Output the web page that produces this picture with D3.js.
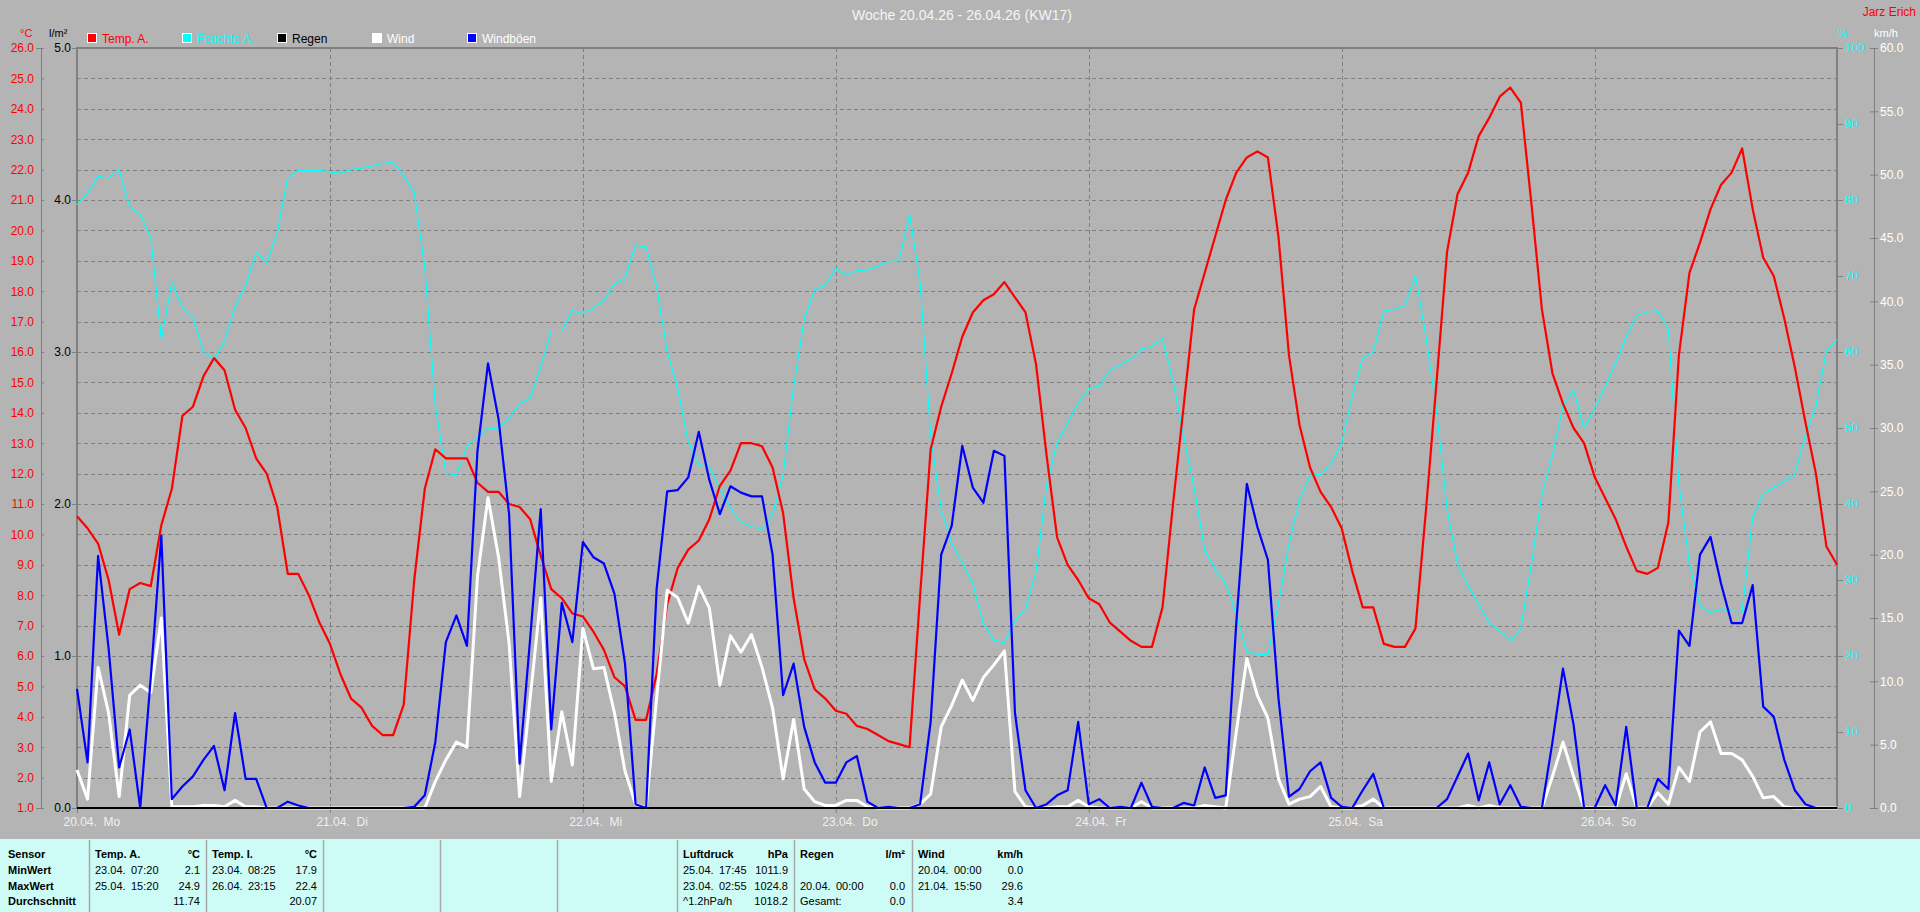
<!DOCTYPE html>
<html>
<head>
<meta charset="utf-8">
<script src="https://cdn.jsdelivr.net/npm/d3@7"></script>
<style>
	body { margin: 0; background: #b4b4b4; overflow: hidden; }
	svg text { font-family: 'Liberation Sans', Arial, sans-serif; }
	.tbl text { font-family: 'Liberation Sans', Arial, sans-serif; font-size: 11px; white-space: pre; }
</style>
</head>
<body>
<svg id="chart" width="1920" height="912"></svg>
<script>
// hourly values, 20.04. 00:00 .. 26.04. 23:00
const tempA = [
	10.6, 10.2, 9.7, 8.5, 6.7, 8.2, 8.4, 8.3, 10.3, 11.5,
	13.9, 14.2, 15.2, 15.8, 15.4, 14.1, 13.5, 12.5, 12.0, 10.9,
	8.7, 8.7, 8.0, 7.1, 6.4, 5.4, 4.6, 4.3, 3.7, 3.4,
	3.4, 4.4, 8.5, 11.5, 12.8, 12.5, 12.5, 12.5, 11.7, 11.4,
	11.4, 11.0, 10.9, 10.5, 9.3, 8.2, 7.9, 7.4, 7.3, 6.8,
	6.2, 5.3, 5.0, 3.9, 3.9, 5.4, 7.7, 8.9, 9.5, 9.8,
	10.5, 11.6, 12.1, 13.0, 13.0, 12.9, 12.2, 10.7, 7.9, 5.9,
	4.9, 4.6, 4.2, 4.1, 3.7, 3.6, 3.4, 3.2, 3.1, 3.0,
	8.0, 12.8, 14.2, 15.3, 16.5, 17.3, 17.7, 17.9, 18.3, 17.8,
	17.3, 15.6, 12.6, 9.9, 9.0, 8.5, 7.9, 7.7, 7.1, 6.8,
	6.5, 6.3, 6.3, 7.6, 11.0, 14.2, 17.4, 18.6, 19.8, 21.0,
	21.9, 22.4, 22.6, 22.4, 19.8, 15.9, 13.6, 12.2, 11.4, 10.9,
	10.2, 8.8, 7.6, 7.6, 6.4, 6.3, 6.3, 6.9, 10.8, 15.0,
	19.3, 21.2, 21.9, 23.1, 23.7, 24.4, 24.7, 24.2, 20.9, 17.4,
	15.3, 14.3, 13.5, 13.0, 11.9, 11.2, 10.5, 9.6, 8.8, 8.7,
	8.9, 10.4, 15.9, 18.6, 19.6, 20.7, 21.5, 21.9, 22.7, 20.7,
	19.1, 18.5, 17.1, 15.5, 13.7, 12.0, 9.6, 9.0,
]
const humidA = [
	79.4, 80.9, 83.1, 82.9, 84.0, 79.1, 78.1, 75.1, 61.7, 69.2,
	65.8, 64.5, 60.1, 59.0, 61.4, 66.0, 68.8, 73.1, 71.7, 75.7,
	82.9, 83.9, 83.9, 83.9, 83.7, 83.5, 84.0, 84.2, 84.5, 84.8,
	85.0, 83.2, 80.9, 71.2, 52.9, 44.1, 43.8, 47.6, 48.8, 50.0,
	49.9, 51.3, 53.2, 53.9, 58.1, 62.7, 62.7, 65.5, 65.0, 65.8,
	66.8, 69.0, 69.7, 74.1, 73.8, 68.6, 60.1, 55.2, 48.2, 45.2,
	45.0, 41.9, 39.6, 37.6, 37.0, 36.8, 38.6, 43.8, 55.5, 64.3,
	68.2, 68.8, 71.0, 70.1, 70.7, 70.8, 71.3, 71.9, 72.0, 78.1,
	69.2, 49.0, 39.3, 34.8, 32.3, 29.5, 24.3, 22.1, 21.8, 24.6,
	26.2, 31.1, 42.5, 48.0, 50.7, 53.3, 55.2, 55.5, 57.6, 58.3,
	59.1, 60.4, 60.7, 61.8, 56.2, 49.0, 42.2, 34.0, 31.4, 29.5,
	25.6, 20.6, 20.2, 20.2, 26.9, 34.7, 40.6, 43.8, 43.9, 45.4,
	48.0, 54.2, 59.2, 60.0, 65.4, 65.6, 66.1, 70.1, 62.0, 52.3,
	39.3, 32.1, 29.2, 26.9, 24.3, 23.3, 22.0, 23.6, 32.1, 41.2,
	46.4, 52.9, 55.0, 50.0, 52.6, 55.5, 58.5, 62.0, 64.8, 65.3,
	65.4, 63.0, 42.5, 32.1, 26.6, 25.7, 26.2, 25.9, 25.8, 38.3,
	41.3, 42.2, 43.0, 43.9, 49.0, 52.9, 60.2, 61.7,
]
const rain = [
	0, 0, 0, 0, 0, 0, 0, 0, 0, 0, 0, 0, 0, 0, 0, 0, 0, 0, 0, 0, 0, 0, 0, 0,
	0, 0, 0, 0, 0, 0, 0, 0, 0, 0, 0, 0, 0, 0, 0, 0, 0, 0, 0, 0, 0, 0, 0, 0,
	0, 0, 0, 0, 0, 0, 0, 0, 0, 0, 0, 0, 0, 0, 0, 0, 0, 0, 0, 0, 0, 0, 0, 0,
	0, 0, 0, 0, 0, 0, 0, 0, 0, 0, 0, 0, 0, 0, 0, 0, 0, 0, 0, 0, 0, 0, 0, 0,
	0, 0, 0, 0, 0, 0, 0, 0, 0, 0, 0, 0, 0, 0, 0, 0, 0, 0, 0, 0, 0, 0, 0, 0,
	0, 0, 0, 0, 0, 0, 0, 0, 0, 0, 0, 0, 0, 0, 0, 0, 0, 0, 0, 0, 0, 0, 0, 0,
	0, 0, 0, 0, 0, 0, 0, 0, 0, 0, 0, 0, 0, 0, 0, 0, 0, 0, 0, 0, 0, 0, 0, 0,
]
const wind = [
	3.0, 0.7, 11.1, 7.5, 0.9, 8.9, 9.7, 9.1, 15.0, 0.1,
	0.1, 0.1, 0.2, 0.2, 0.1, 0.6, 0.1, 0.1, 0, 0,
	0, 0, 0, 0, 0, 0, 0, 0, 0, 0,
	0, 0, 0, 0, 2.1, 3.8, 5.2, 4.8, 18.3, 24.5,
	19.8, 13.0, 0.9, 8.7, 16.6, 2.1, 7.6, 3.4, 14.2, 11.0,
	11.1, 7.5, 2.9, 0.3, 0, 8.7, 17.2, 16.6, 14.6, 17.5,
	15.8, 9.7, 13.6, 12.3, 13.7, 11.1, 7.9, 2.3, 7.0, 1.5,
	0.5, 0.2, 0.2, 0.6, 0.6, 0.1, 0, 0, 0, 0,
	0.3, 1.1, 6.4, 8.1, 10.1, 8.5, 10.3, 11.3, 12.4, 1.3,
	0.1, 0, 0, 0.1, 0.1, 0.6, 0.1, 0, 0, 0,
	0, 0.5, 0, 0, 0, 0, 0, 0.2, 0.1, 0,
	6.0, 11.8, 8.9, 7.1, 2.3, 0.3, 0.7, 0.9, 1.7, 0.1,
	0, 0, 0.2, 0.7, 0, 0, 0, 0, 0, 0,
	0, 0, 0.2, 0, 0.2, 0, 0, 0, 0, 0,
	2.5, 5.2, 2.5, 0, 0, 0, 0, 2.7, 0, 0,
	1.2, 0.3, 3.2, 2.1, 6.0, 6.8, 4.3, 4.3, 3.8, 2.5,
	0.8, 0.9, 0.1, 0, 0, 0, 0, 0,
]
const gusts = [
	9.4, 3.6, 19.9, 12.6, 3.2, 6.2, 0, 10.3, 21.5, 0.7,
	1.7, 2.5, 3.8, 4.9, 1.4, 7.5, 2.3, 2.3, 0, 0,
	0.5, 0.2, 0, 0, 0, 0, 0, 0, 0, 0,
	0, 0, 0.1, 1.0, 5.2, 13.1, 15.2, 12.8, 28.2, 35.1,
	30.7, 23.2, 3.5, 13.4, 23.6, 6.2, 16.2, 13.1, 21.0, 19.8,
	19.3, 16.9, 11.4, 0.3, 0, 17.3, 25.0, 25.1, 26.1, 29.7,
	25.9, 23.2, 25.4, 24.9, 24.6, 24.6, 20.0, 8.9, 11.4, 6.4,
	3.6, 2.0, 2.0, 3.6, 4.1, 0.5, 0, 0.1, 0, 0,
	0.3, 6.8, 20.0, 22.3, 28.6, 25.3, 24.1, 28.2, 27.8, 7.5,
	1.4, 0, 0.3, 1.0, 1.4, 6.8, 0.3, 0.7, 0, 0.1,
	0, 2.0, 0.1, 0, 0, 0.4, 0.2, 3.2, 0.8, 1.0,
	14.6, 25.6, 22.2, 19.6, 8.7, 0.9, 1.5, 2.9, 3.6, 0.8,
	0.1, 0, 1.4, 2.7, 0, 0, 0, 0, 0, 0,
	0.7, 2.5, 4.3, 0.6, 3.6, 0.3, 1.8, 0.1, 0, 0,
	5.2, 11.0, 6.6, 0, 0, 1.8, 0.2, 6.4, 0, 0,
	2.3, 1.5, 14.0, 12.8, 20.0, 21.4, 17.7, 14.6, 14.6, 17.6,
	8.0, 7.2, 3.8, 1.4, 0.3, 0, 0, 0,
]

const dayLabels = ['20.04.  Mo', '21.04.  Di', '22.04.  Mi', '23.04.  Do', '24.04.  Fr', '25.04.  Sa', '26.04.  So']
const tempTicks = [1, 2, 3, 4, 5, 6, 7, 8, 9, 10, 11, 12, 13, 14, 15, 16, 17, 18, 19, 20, 21, 22, 23, 24, 25, 26]
const rainTicks = [0, 1, 2, 3, 4, 5]
const humidTicks = [0, 10, 20, 30, 40, 50, 60, 70, 80, 90, 100]
const windTicks = [0, 5, 10, 15, 20, 25, 30, 35, 40, 45, 50, 55, 60]

const legendNames = ['Temp. A.', 'Feuchte A.', 'Regen', 'Wind', 'Windböen']
const legendColors = ['#ff0000', '#00ffff', '#000000', '#ffffff', '#0000ff']
const legendText = ['#ff0000', '#00ffff', '#000000', '#ffffff', '#ffffff']

const statRows = ['Sensor', 'MinWert', 'MaxWert', 'Durchschnitt']
const tempAStats = ['Temp. A.', '°C', '23.04.', '07:20', '2.1', '25.04.', '15:20', '24.9', '', '', '11.74']
const tempIStats = ['Temp. I.', '°C', '23.04.', '08:25', '17.9', '26.04.', '23:15', '22.4', '', '', '20.07']
const pressureStats = ['Luftdruck', 'hPa', '25.04.', '17:45', '1011.9', '23.04.', '02:55', '1024.8', '^1.2hPa/h', '', '1018.2']
const rainStats = ['Regen', 'l/m²', '', '', '', '20.04.', '00:00', '0.0', 'Gesamt:', '', '0.0']
const windStats = ['Wind', 'km/h', '20.04.', '00:00', '0.0', '21.04.', '15:50', '29.6', '', '', '3.4']

const svg = d3.select('#chart')
const grey = '#808080'
const plotLeft = 77
const plotRight = 1837
const plotTop = 48
const plotBottom = 808

const x = d3.scaleLinear().domain([0, 167]).range([plotLeft, plotRight])
const yTemp = d3.scaleLinear().domain([1, 26]).range([plotBottom, plotTop])
const yRain = d3.scaleLinear().domain([0, 5]).range([plotBottom, plotTop])
const yHumid = d3.scaleLinear().domain([0, 100]).range([plotBottom, plotTop])
const yWind = d3.scaleLinear().domain([0, 60]).range([plotBottom, plotTop])

svg.append('rect').attr('width', 1920).attr('height', 912).attr('fill', '#b4b4b4')

// title and captions
svg.append('text')
	.attr('x', 962)
	.attr('y', 20)
	.attr('text-anchor', 'middle')
	.attr('font-size', 14)
	.attr('fill', '#f4f4f4')
	.text('Woche 20.04.26 - 26.04.26 (KW17)')
svg.append('text')
	.attr('x', 1916)
	.attr('y', 16)
	.attr('text-anchor', 'end')
	.attr('font-size', 12)
	.attr('fill', '#ff0000')
	.text('Jarz Erich')
const units = [
	{ t: '°C', x: 20, c: '#ff0000' },
	{ t: 'l/m²', x: 49, c: '#000000' },
	{ t: '%', x: 1838, c: '#00ffff' },
	{ t: 'km/h', x: 1874, c: '#ffffff' },
]
svg.selectAll('.unit')
	.data(units)
	.enter()
	.append('text')
	.attr('class', 'unit')
	.attr('x', d => d.x)
	.attr('y', 37)
	.attr('font-size', 11)
	.attr('fill', d => d.c)
	.text(d => d.t)

// legend
const lg = svg.append('g').selectAll('g').data(legendNames).enter().append('g')
	.attr('transform', (d, i) => `translate(${87 + i * 95},33)`)
lg.append('rect')
	.attr('x', 0.5)
	.attr('y', 0.5)
	.attr('width', 9)
	.attr('height', 9)
	.attr('fill', (d, i) => legendColors[i])
	.attr('stroke', '#ffffff')
lg.append('text')
	.attr('x', 15)
	.attr('y', 10)
	.attr('font-size', 12)
	.attr('fill', (d, i) => legendText[i])
	.text(d => d)

// grid
const grid = svg.append('g').attr('stroke', grey).attr('stroke-dasharray', '4,3').attr('shape-rendering', 'crispEdges')
grid.selectAll('.h')
	.data(tempTicks.slice(1, -1))
	.enter()
	.append('line')
	.attr('x1', plotLeft)
	.attr('x2', plotRight)
	.attr('y1', d => Math.round(yTemp(d)) + 0.5)
	.attr('y2', d => Math.round(yTemp(d)) + 0.5)
grid.selectAll('.v')
	.data([24, 48, 72, 96, 120, 144])
	.enter()
	.append('line')
	.attr('x1', d => Math.round(x(d)) + 0.5)
	.attr('x2', d => Math.round(x(d)) + 0.5)
	.attr('y1', plotTop)
	.attr('y2', plotBottom)

// frame
svg.append('path')
	.attr('d', `M${plotLeft},${plotBottom}V${plotTop}H${plotRight}V${plotBottom}`)
	.attr('stroke', grey)
	.attr('stroke-width', 2)
	.attr('fill', 'none')

const styleAxis = (g, color) => {
	g.select('.domain').attr('stroke', grey)
	g.selectAll('.tick line').attr('stroke', grey)
	g.selectAll('text').attr('fill', color).attr('font-size', 12).attr('font-family', null)
}

// left axes
svg.append('g')
	.attr('transform', 'translate(41,0)')
	.call(d3.axisLeft(yTemp).tickValues(tempTicks).tickFormat(d3.format('.1f')).tickSizeOuter(0).tickSize(5).tickPadding(2))
	.call(g => styleAxis(g, '#ff0000'))
	.call(g => g.selectAll('.tick line').attr('x2', 3))
svg.append('g')
	.attr('transform', `translate(${plotLeft},0)`)
	.call(d3.axisLeft(yRain).tickValues(rainTicks).tickFormat(d3.format('.1f')).tickSizeOuter(0).tickSize(5).tickPadding(1))
	.call(g => styleAxis(g, '#000000'))
	.call(g => g.select('.domain').remove())

// right axes
svg.append('g')
	.attr('transform', `translate(${plotRight},0)`)
	.call(d3.axisRight(yHumid).tickValues(humidTicks).tickFormat(d3.format('d')).tickSizeOuter(0).tickSize(6).tickPadding(2))
	.call(g => styleAxis(g, '#00ffff'))
	.call(g => g.select('.domain').remove())
svg.append('g')
	.attr('transform', 'translate(1874,0)')
	.call(d3.axisRight(yWind).tickValues(windTicks).tickFormat(d3.format('.1f')).tickSizeOuter(0).tickSize(4).tickPadding(2))
	.call(g => styleAxis(g, '#ffffff'))
	.call(g => g.selectAll('.tick line').attr('x1', -4))

// time axis
svg.append('g')
	.attr('transform', `translate(0,${plotBottom})`)
	.call(d3.axisBottom(x).tickValues([0, 24, 48, 72, 96, 120, 144]).tickFormat((d, i) => dayLabels[i]).tickSizeOuter(0).tickSize(5))
	.call(g => styleAxis(g, '#f0f0f0'))
	.call(g => g.select('.domain').remove())
	.call(g => g.selectAll('text').attr('text-anchor', 'start').attr('x', -14).attr('y', 9).style('white-space', 'pre'))

// series
const plot = svg.append('g').attr('fill', 'none').attr('stroke-linejoin', 'round')
const lineOf = y => d3.line().x((d, i) => x(i)).y(d => y(d))
plot.append('path').attr('d', lineOf(yHumid)(humidA)).attr('stroke', '#00ffff').attr('stroke-width', 1.2)
plot.append('path').attr('d', lineOf(yTemp)(tempA)).attr('stroke', '#ff0000').attr('stroke-width', 2.2)
plot.append('path').attr('d', lineOf(yWind)(wind)).attr('stroke', '#ffffff').attr('stroke-width', 3)
plot.append('path').attr('d', lineOf(yWind)(gusts)).attr('stroke', '#0000ff').attr('stroke-width', 2.2)
plot.append('path').attr('d', lineOf(yRain)(rain)).attr('stroke', '#000000').attr('stroke-width', 2)

// statistics table
const tbl = svg.append('g').attr('class', 'tbl')
tbl.append('rect').attr('y', 839).attr('width', 1920).attr('height', 73).attr('fill', '#cdfbf5')
const colStarts = [89, 206, 323, 440, 557, 677, 794, 912]
tbl.selectAll('line')
	.data(colStarts)
	.enter()
	.append('line')
	.attr('x1', d => d + 0.5)
	.attr('x2', d => d + 0.5)
	.attr('y1', 840)
	.attr('y2', 912)
	.attr('stroke', '#a8a8a8')
	.attr('stroke-width', 1.5)
const rowY = [858, 874, 889.5, 905]
tbl.selectAll('.rl')
	.data(statRows)
	.enter()
	.append('text')
	.attr('x', 8)
	.attr('y', (d, i) => rowY[i])
	.attr('font-weight', 'bold')
	.text(d => d)
const blocks = [
	{ c: colStarts[0], s: tempAStats },
	{ c: colStarts[1], s: tempIStats },
	{ c: colStarts[5], s: pressureStats },
	{ c: colStarts[6], s: rainStats },
	{ c: colStarts[7], s: windStats },
]
blocks.forEach(b => {
	const g = tbl.append('g').attr('transform', `translate(${b.c},0)`)
	g.append('text').attr('x', 6).attr('y', rowY[0]).attr('font-weight', 'bold').text(b.s[0])
	g.append('text').attr('x', 111).attr('y', rowY[0]).attr('font-weight', 'bold').attr('text-anchor', 'end').text(b.s[1])
	for (let r = 0; r < 3; r++) {
		const cells = b.s.slice(2 + r * 3, 5 + r * 3)
		g.append('text').attr('x', 6).attr('y', rowY[r + 1]).text(cells[0])
		g.append('text').attr('x', 42).attr('y', rowY[r + 1]).text(cells[1])
		g.append('text').attr('x', 111).attr('y', rowY[r + 1]).attr('text-anchor', 'end').text(cells[2])
	}
})
</script>
</body>
</html>
